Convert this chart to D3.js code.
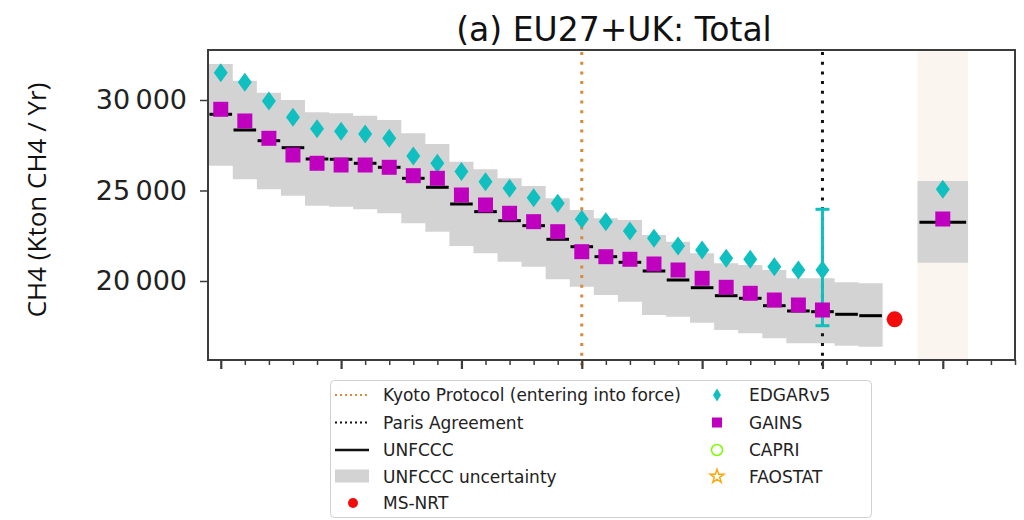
<!DOCTYPE html>
<html>
<head>
<meta charset="utf-8">
<script src="https://cdn.jsdelivr.net/npm/d3@7"></script>
<style>
  html, body { margin: 0; padding: 0; background: #fff; }
  svg { display: block; }
</style>
</head>
<body>
<svg id="chart" width="1024" height="520"></svg>
<script>
// Annual EU27+UK methane totals (kt CH4 / yr)
const years = d3.range(1990, 2018);
const unfccc = [29210, 28343, 27751, 27365, 26740, 26724, 26503, 26282, 25674, 25177,
                24254, 23831, 23333, 23057, 22304, 21895, 21343, 21033, 20552, 20055,
                19630, 19188, 19044, 18635, 18343, 18304, 18160, 18083];
const unfcccHigh = [31989, 31066, 30403, 30000, 29320, 29265, 29133, 28895, 28160, 27569,
                    26591, 26171, 25674, 25249, 24569, 23923, 23464, 23370, 22541, 22171,
                    21530, 20978, 20884, 20608, 20149, 20149, 19928, 19873];
const unfcccLow = [26370, 25619, 25066, 24713, 24160, 24105, 23961, 23740, 23188, 22724,
                   21934, 21530, 21066, 20792, 20094, 19685, 19227, 18856, 18122, 18030,
                   17696, 17293, 17110, 16834, 16558, 16558, 16425, 16370];

const modelYears = d3.range(1990, 2016);
const gains = [29486, 28840, 27884, 26961, 26503, 26409, 26409, 26282, 25818, 25674,
               24751, 24199, 23740, 23278, 22724, 21619, 21343, 21199, 20939, 20608,
               20149, 19652, 19320, 18950, 18674, 18398];
const edgar = [31508, 30978, 29945, 29044, 28414, 28271, 28122, 27884, 26906, 26503,
               26045, 25486, 25122, 24604, 24293, 23409, 23278, 22762, 22359, 21934,
               21713, 21254, 21199, 20790, 20608, 20608];
// EDGAR uncertainty range shown for its last year
const edgarErrYear = 2015;
const edgarErr = [17530, 23961];

// Near-real-time member-state estimate
const msNrtYear = 2018;
const msNrt = 17884;

// Period summary block centred on 2020
const summaryYear = 2020;
const summaryUnfccc = 23243;
const summaryHigh = 25525;
const summaryLow = 21011;
const summaryGains = 23425;
const summaryEdgar = 25066;

// Policy milestones
const kyotoYear = 2005;
const parisYear = 2015;

const yTicks = [20000, 25000, 30000];
const xTickYears = d3.range(1990, 2024);

const title = "(a) EU27+UK: Total";
const yTitle = "CH4 (Kton CH4 / Yr)";

const C = {
  edgar: "#10bfbf",
  gains: "#bf00bf",
  band: "#d3d3d3",
  kyoto: "#d8893a",
  red: "#f20c0c",
  spine: "#3c3c3c",
  beige: "#fbf5ef"
};

const svg = d3.select("#chart");
const m = { left: 208, right: 1015, top: 50, bottom: 360 };

const x = d3.scaleLinear().domain([1989.47, 2023]).range([m.left, m.right]);
const y = d3.scaleLinear().domain([15635, 32762]).range([m.bottom, m.top]);

const plot = svg.append("g");

// Summary period background
plot.append("rect")
  .attr("x", x(summaryYear - 1.05)).attr("y", m.top)
  .attr("width", x(summaryYear + 1.05) - x(summaryYear - 1.05))
  .attr("height", m.bottom - m.top)
  .attr("fill", C.beige);

// UNFCCC uncertainty band, stepped per year
const bandPts = [];
years.forEach((yr, i) => {
  bandPts.push({ x: yr - 0.5, lo: unfcccLow[i], hi: unfcccHigh[i] });
  bandPts.push({ x: yr + 0.5, lo: unfcccLow[i], hi: unfcccHigh[i] });
});
plot.append("path")
  .datum(bandPts)
  .attr("fill", C.band)
  .attr("d", d3.area().x(d => x(d.x)).y0(d => y(d.lo)).y1(d => y(d.hi)));

plot.append("rect")
  .attr("x", x(summaryYear - 1.05)).attr("y", y(summaryHigh))
  .attr("width", x(summaryYear + 1.05) - x(summaryYear - 1.05))
  .attr("height", y(summaryLow) - y(summaryHigh))
  .attr("fill", C.band);

// UNFCCC inventory as one horizontal bar per year
plot.selectAll(".unf").data(years).join("line")
  .attr("x1", d => x(d - 0.47)).attr("x2", d => x(d + 0.47))
  .attr("y1", (d, i) => y(unfccc[i])).attr("y2", (d, i) => y(unfccc[i]))
  .attr("stroke", "#000").attr("stroke-width", 3);

plot.append("line")
  .attr("x1", x(summaryYear - 0.97)).attr("x2", x(summaryYear + 0.97))
  .attr("y1", y(summaryUnfccc)).attr("y2", y(summaryUnfccc))
  .attr("stroke", "#000").attr("stroke-width", 3);

// Milestone markers
[[kyotoYear, C.kyoto], [parisYear, "#111"]].forEach(([yr, col]) => {
  plot.append("line")
    .attr("x1", x(yr)).attr("x2", x(yr))
    .attr("y1", m.top + 2).attr("y2", m.bottom + 6)
    .attr("stroke", col).attr("stroke-width", 3)
    .attr("stroke-dasharray", "3,6.7");
});

// EDGAR error bar
const eb = plot.append("g").attr("stroke", C.edgar).attr("stroke-width", 3);
eb.append("line")
  .attr("x1", x(edgarErrYear)).attr("x2", x(edgarErrYear))
  .attr("y1", y(edgarErr[0])).attr("y2", y(edgarErr[1]));
edgarErr.forEach(v => eb.append("line")
  .attr("x1", x(edgarErrYear) - 7).attr("x2", x(edgarErrYear) + 7)
  .attr("y1", y(v)).attr("y2", y(v)));

// Marker shapes
const diamond = (w, h) => `M0,${-h / 2}L${w / 2},0L0,${h / 2}L${-w / 2},0Z`;
const square = s => `M${-s / 2},${-s / 2}h${s}v${s}h${-s}Z`;

const edgarPts = modelYears.map((yr, i) => ({ yr, v: edgar[i] }))
  .concat([{ yr: summaryYear, v: summaryEdgar }]);
const gainsPts = modelYears.map((yr, i) => ({ yr, v: gains[i] }))
  .concat([{ yr: summaryYear, v: summaryGains }]);

plot.selectAll(".edg").data(edgarPts).join("path")
  .attr("transform", d => `translate(${x(d.yr)},${y(d.v)})`)
  .attr("d", diamond(14, 19))
  .attr("fill", C.edgar);

plot.selectAll(".gns").data(gainsPts).join("path")
  .attr("transform", d => `translate(${x(d.yr)},${y(d.v)})`)
  .attr("d", square(15))
  .attr("fill", C.gains);

plot.append("circle")
  .attr("cx", x(msNrtYear)).attr("cy", y(msNrt)).attr("r", 8)
  .attr("fill", C.red);

// Axes
const yAxis = d3.axisLeft(y).tickValues(yTicks).tickSize(8).tickPadding(13)
  .tickFormat(d3.formatLocale({ thousands: "\u2009", grouping: [3], decimal: ".", currency: ["", ""] }).format(",d"));
const gy = svg.append("g").attr("transform", `translate(${m.left},0)`).call(yAxis);
gy.select(".domain").remove();
gy.selectAll(".tick line").attr("stroke", C.spine).attr("stroke-width", 1.5);
gy.selectAll(".tick text")
  .attr("font-family", "'DejaVu Sans', sans-serif").attr("font-size", 27)
  .attr("fill", "#222");

const gx = svg.append("g").attr("transform", `translate(0,${m.bottom})`)
  .call(d3.axisBottom(x).tickValues(xTickYears).tickFormat(""));
gx.select(".domain").remove();
gx.selectAll(".tick line")
  .attr("y2", d => d % 5 === 0 ? 9 : 5)
  .attr("stroke", C.spine)
  .attr("stroke-width", d => d % 5 === 0 ? 2.2 : 1.5);

// Frame
svg.append("rect")
  .attr("x", m.left).attr("y", m.top)
  .attr("width", m.right - m.left).attr("height", m.bottom - m.top)
  .attr("fill", "none").attr("stroke", C.spine).attr("stroke-width", 2);

// Titles
svg.append("text")
  .attr("x", 614).attr("y", 41).attr("text-anchor", "middle")
  .attr("font-family", "'DejaVu Sans', sans-serif").attr("font-size", 33)
  .attr("fill", "#111").text(title);

svg.append("text")
  .attr("transform", "translate(46,200) rotate(-90)")
  .attr("text-anchor", "middle")
  .attr("font-family", "'Open Sans', sans-serif").attr("font-size", 26)
  .attr("fill", "#111").text(yTitle);

// Legend
const lg = svg.append("g");
lg.append("rect")
  .attr("x", 330.5).attr("y", 380.5).attr("width", 541).attr("height", 137)
  .attr("rx", 4).attr("fill", "#fff").attr("fill-opacity", 0.9)
  .attr("stroke", "#d0d0d0").attr("stroke-width", 1);

const rowY = [395, 422.5, 450, 476.5, 503];
const leftLabels = ["Kyoto Protocol (entering into force)", "Paris Agreement", "UNFCCC",
                    "UNFCCC uncertainty", "MS-NRT"];
const rightLabels = ["EDGARv5", "GAINS", "CAPRI", "FAOSTAT"];

const txt = (xx, yy, s) => lg.append("text")
  .attr("x", xx).attr("y", yy).attr("dy", "0.36em")
  .attr("font-family", "'DejaVu Sans', sans-serif").attr("font-size", 17)
  .attr("fill", "#222").text(s);

leftLabels.forEach((s, i) => txt(383, rowY[i], s));
rightLabels.forEach((s, i) => txt(749, rowY[i], s));

lg.append("line").attr("x1", 335).attr("x2", 369).attr("y1", rowY[0]).attr("y2", rowY[0])
  .attr("stroke", C.kyoto).attr("stroke-width", 1.8).attr("stroke-dasharray", "2,3");
lg.append("line").attr("x1", 335).attr("x2", 369).attr("y1", rowY[1]).attr("y2", rowY[1])
  .attr("stroke", "#111").attr("stroke-width", 1.8).attr("stroke-dasharray", "2,3");
lg.append("line").attr("x1", 335).attr("x2", 369).attr("y1", rowY[2]).attr("y2", rowY[2])
  .attr("stroke", "#111").attr("stroke-width", 2.5);
lg.append("rect").attr("x", 335).attr("y", rowY[3] - 7).attr("width", 34).attr("height", 13)
  .attr("fill", C.band);
lg.append("circle").attr("cx", 353).attr("cy", rowY[4]).attr("r", 5).attr("fill", C.red);

const mx = 717;
lg.append("path").attr("transform", `translate(${mx},${rowY[0]})`)
  .attr("d", diamond(8, 13)).attr("fill", C.edgar);
lg.append("path").attr("transform", `translate(${mx},${rowY[1]})`)
  .attr("d", square(10)).attr("fill", C.gains);
lg.append("circle").attr("cx", mx).attr("cy", rowY[2]).attr("r", 5.5)
  .attr("fill", "none").attr("stroke", "#7cfc00").attr("stroke-width", 1.5);
lg.append("path").attr("transform", `translate(${mx},${rowY[3]})`)
  .attr("d", d3.symbol(d3.symbolStar, 60)())
  .attr("fill", "none").attr("stroke", "#ffa500").attr("stroke-width", 1.4);
</script>
</body>
</html>
